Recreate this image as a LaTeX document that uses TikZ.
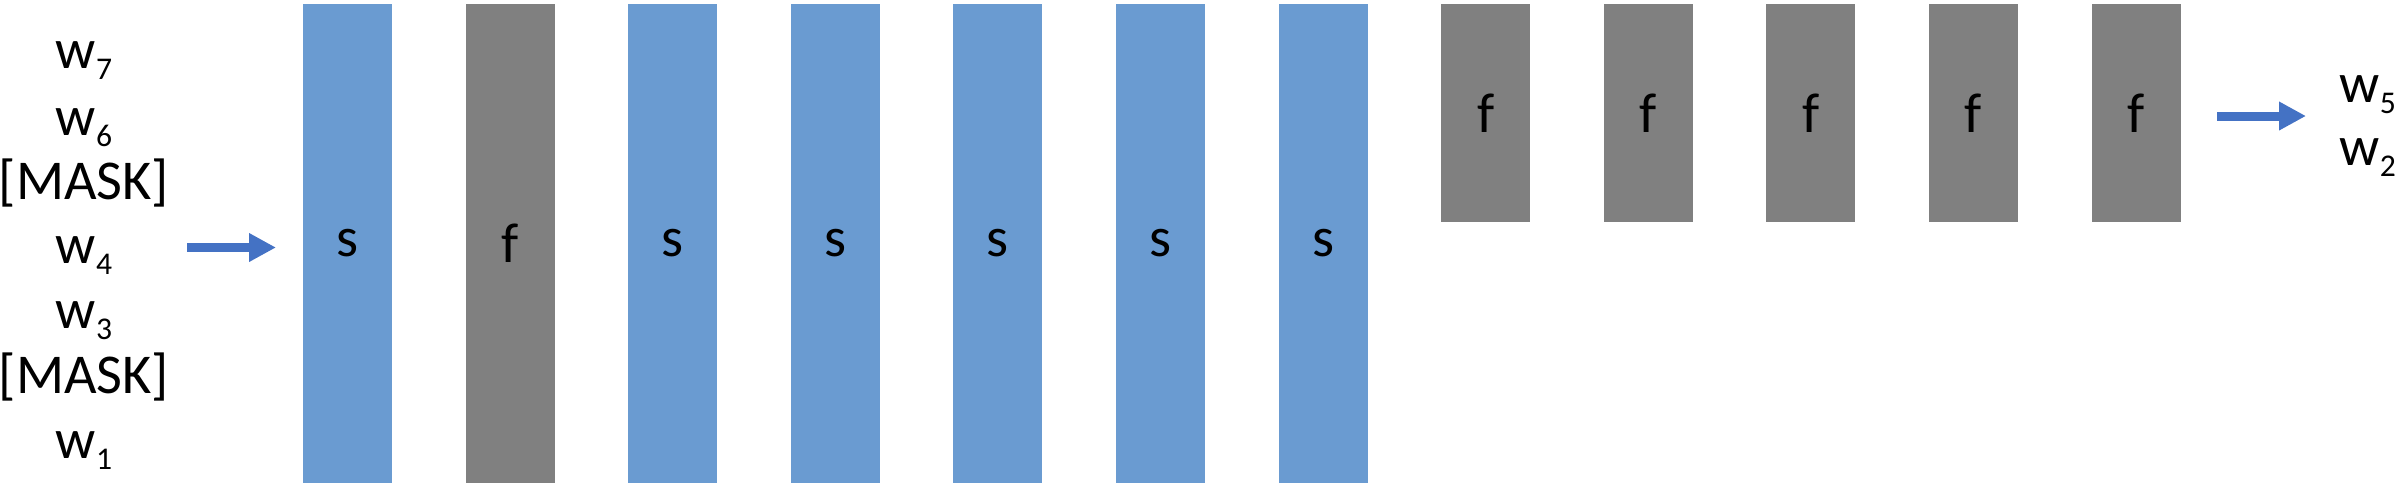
\documentclass[tikz,border=0pt]{standalone}
\usepackage{fontspec}
\setmainfont{Carlito}
\usetikzlibrary{arrows.meta}
\definecolor{layerblue}{HTML}{6A9BD1}
\definecolor{layergray}{HTML}{808080}
\definecolor{arrowblue}{HTML}{4472C4}
\newcommand{\wsub}[1]{w\raisebox{-3.4pt}{\fontsize{9}{9}\selectfont #1}}
\tikzset{
    slow/.style={fill=layerblue, minimum width=0.89cm, minimum height=4.79cm, inner sep=0pt, font=\fontsize{16}{19}\selectfont},
    fast/.style={fill=layergray, minimum width=0.89cm, minimum height=4.79cm, inner sep=0pt, font=\fontsize{16}{19}\selectfont},
    fastshort/.style={fast, minimum height=2.18cm},
    word/.style={inner sep=0pt, font=\fontsize{16}{19}\selectfont},
    flow/.style={arrowblue, line width=0.09cm, -{Triangle[length=0.27cm,width=0.27cm]}}
}
\begin{document}
\begin{tikzpicture}
        \useasboundingbox (0,0) rectangle (23.98,4.98);
        
        %Input tokens
        \node[word, anchor=base] (t7) at (0.84,4.30) {\wsub{7}};
        \node[word, anchor=base] (t6) at (0.84,3.63) {\wsub{6}};
        \node[word, anchor=base] (m1) at (0.84,2.99) {[MASK]};
        \node[word, anchor=base] (t4) at (0.84,2.35) {\wsub{4}};
        \node[word, anchor=base] (t3) at (0.84,1.70) {\wsub{3}};
        \node[word, anchor=base] (m2) at (0.84,1.05) {[MASK]};
        \node[word, anchor=base] (t1) at (0.84,0.40) {\wsub{1}};
        
        %Layers
        %full height
        \node[slow] (l1) at (3.475,2.545) {s};
        \node[fast] (l2) at (5.101,2.545) {f};
        \node[slow] (l3) at (6.727,2.545) {s};
        \node[slow] (l4) at (8.353,2.545) {s};
        \node[slow] (l5) at (9.979,2.545) {s};
        \node[slow] (l6) at (11.605,2.545) {s};
        \node[slow] (l7) at (13.231,2.545) {s};
        %short
        \node[fastshort] (l8) at (14.857,3.85) {f};
        \node[fastshort] (l9) at (16.483,3.85) {f};
        \node[fastshort] (l10) at (18.109,3.85) {f};
        \node[fastshort] (l11) at (19.735,3.85) {f};
        \node[fastshort] (l12) at (21.361,3.85) {f};
        
        %Output tokens
        \node[word, anchor=base west] (t5) at (23.39,3.96) {\wsub{5}};
        \node[word, anchor=base west] (t2) at (23.39,3.33) {\wsub{2}};
        
        %Arrows
        \coordinate (inbeg) at (1.87,2.505);
        \coordinate (inend) at (2.76,2.505);
        \coordinate (outbeg) at (22.17,3.82);
        \coordinate (outend) at (23.06,3.82);
        \draw[flow] (inbeg) -- (inend);
        \draw[flow] (outbeg) -- (outend);
        
\end{tikzpicture}
\end{document}
